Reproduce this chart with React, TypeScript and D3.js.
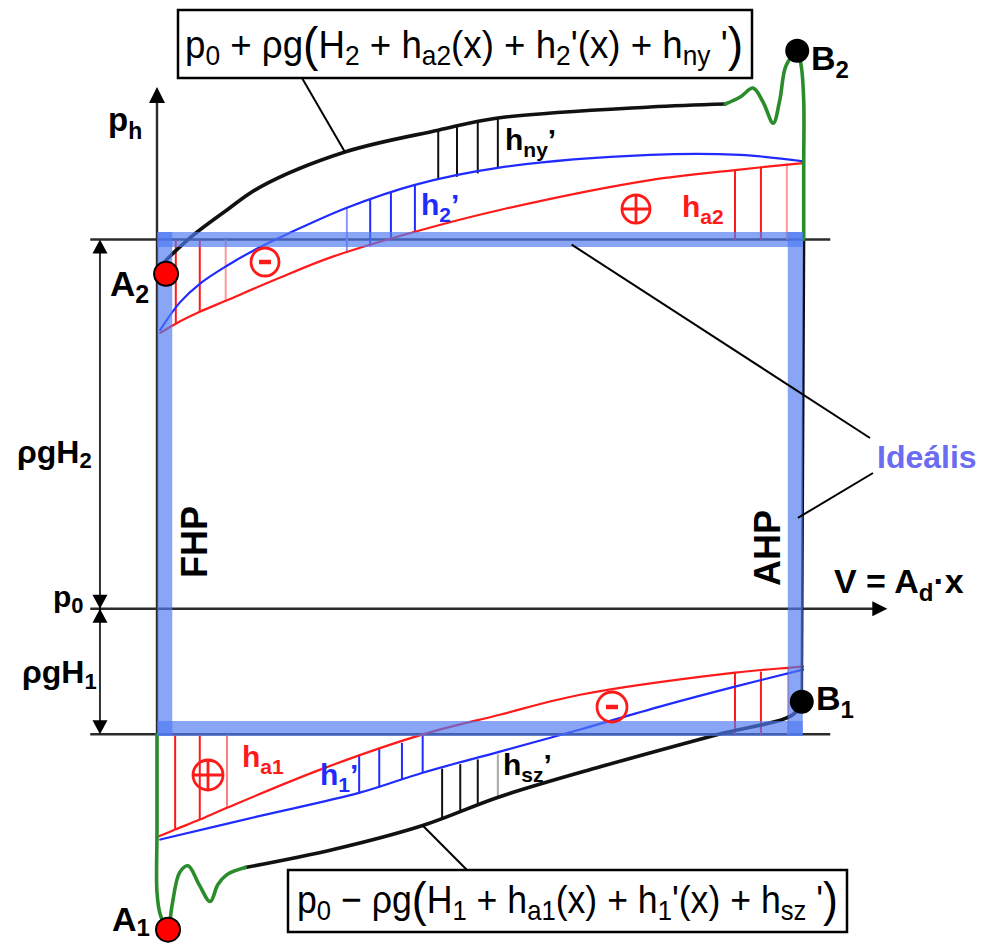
import React from 'react';
import * as d3 from 'd3';

type Pt = [number, number];
type Hatch = [number, number, number]; // u, v from, v to

// u: piston stroke, 0 = FHP .. 100 = AHP
// v: pressure above p0, rho*g*H2 = 100
const levelH2 = 100;
const levelP0 = 0;
const levelH1 = -34;

// delivery side (upper) curves
const upperTotal: Pt[] = [[1.2, 94], [2.5, 96.3], [5.6, 101.2], [10.8, 108.0], [15.9, 114.2], [29.0, 123.7], [43.4, 129.6], [52.6, 132.9], [76.1, 135.9], [87.7, 136.7]];
const upperValve: Pt[] = [[87.7, 136.7], [90.0, 138.6], [92.0, 141.0], [93.5, 137.3], [95.1, 131.5], [96.1, 137.7], [97.1, 147.2], [98.8, 150.7], [99.4, 147.2], [99.8, 137.7], [99.8, 120], [99.8, 100]];
const upperLoss: Pt[] = [[0.5, 75.5], [3.5, 82.9], [6.6, 88.0], [10.8, 92.9], [15.4, 97.5], [20.5, 101.8], [29.3, 108.6], [39.8, 114.8], [52.6, 119.4], [76.1, 122.9], [90.0, 122.9], [99.7, 121.2]];
const upperAccel: Pt[] = [[0.5, 74.7], [2.9, 77.2], [6.6, 80.4], [10.6, 83.4], [18.2, 89.1], [26.7, 95.1], [39.8, 102.1], [52.9, 108.0], [76.1, 116.1], [89.2, 118.8], [99.7, 120.7]];

// suction side (lower) curves
const lowerTotal: Pt[] = [[13.6, -70.1], [27.2, -65.2], [41.0, -58.7], [52.9, -50.9], [68.4, -42.8], [86.4, -34.1], [98.1, -28.7], [99.5, -25.2]];
const lowerValve: Pt[] = [[0, -34.1], [0, -60], [0, -76.9], [0.5, -82.8], [1.7, -86.9], [2.3, -80.6], [3.5, -71.4], [4.8, -69.6], [6.5, -74.7], [8.2, -79.3], [9.4, -74.7], [10.8, -72.0], [13.6, -70.1]];
const lowerLoss: Pt[] = [[0.5, -62.5], [15.4, -56.3], [31.3, -49.8], [41.0, -44.4], [52.9, -38.7], [65.3, -32.7], [77.6, -26.5], [89.2, -21.1], [99.7, -16.5]];
const lowerAccel: Pt[] = [[0.2, -61.7], [2.8, -59.8], [6.6, -57.1], [10.8, -53.9], [25.6, -43.3], [40.9, -34.1], [52.9, -28.7], [65.3, -23.3], [89.2, -17.3], [97.4, -16.0], [99.7, -15.7]];

const rightWall: Pt[] = [[99.85, 100], [99.5, -25.2]];

// hatching
const upperAccelMinus: Hatch[] = [[2.9, 100, 77.2], [6.6, 100, 80.4], [10.6, 100, 83.4]];
const upperAccelPlus: Hatch[] = [[89.2, 118.8, 100], [93.2, 119.8, 100], [97.2, 120.6, 100]];
const upperLossHatch: Hatch[] = [[29.3, 108.6, 96.3], [32.9, 110.8, 98.2], [36.1, 112.7, 100.4], [39.8, 114.8, 102.1]];
const upperValveHatch: Hatch[] = [[43.4, 129.6, 116.1], [46.3, 130.5, 117.0], [49.5, 131.7, 117.9], [52.6, 132.9, 119.4]];
const lowerAccelPlus: Hatch[] = [[2.8, -34.1, -59.8], [6.6, -34.1, -57.1], [10.8, -34.1, -53.9]];
const lowerAccelMinus: Hatch[] = [[89.2, -17.3, -34.1], [93.2, -17.0, -34.1], [97.4, -16.0, -34.1]];
const lowerLossHatch: Hatch[] = [[31.2, -39.5, -49.8], [34.3, -37.9, -48.4], [37.8, -36.3, -46.3], [41.0, -34.4, -44.5]];
const lowerValveHatch: Hatch[] = [[44.0, -43.3, -56.8], [46.8, -42.1, -55.0], [49.5, -40.8, -53.0], [52.6, -39.4, -51.0]];

// ideal cycle
const idealCycle: Pt[] = [[1.2, 100], [98.5, 100], [98.5, -32.4], [1.2, -32.4], [1.2, 100]];

// state points
const pointA2: Pt = [1.4, 90.7];
const pointA1: Pt = [1.7, -86.9];
const pointB1: Pt = [99.5, -25.2];
const pointB2: Pt = [98.8, 151.1];

const FONT = '"Liberation Sans", Arial, Helvetica, sans-serif';
const RED = '#ff1a1a';
const BLUE = '#1f2bff';
const GREEN = '#2a8c2a';

type Seg = { t: string; k?: 'sub' | 'big' };

const topFormula: Seg[] = [
  { t: 'p' }, { t: '0', k: 'sub' }, { t: ' + ρg' }, { t: '(', k: 'big' }, { t: 'H' }, { t: '2', k: 'sub' },
  { t: ' + h' }, { t: 'a2', k: 'sub' }, { t: '(x) + h' }, { t: '2', k: 'sub' }, { t: '\'(x) + h' },
  { t: 'ny', k: 'sub' }, { t: ' \'' }, { t: ')', k: 'big' },
];
const bottomFormula: Seg[] = [
  { t: 'p' }, { t: '0', k: 'sub' }, { t: ' \u2212 ρg' }, { t: '(', k: 'big' }, { t: 'H' }, { t: '1', k: 'sub' },
  { t: ' + h' }, { t: 'a1', k: 'sub' }, { t: '(x) + h' }, { t: '1', k: 'sub' }, { t: '\'(x) + h' },
  { t: 'sz', k: 'sub' }, { t: ' \'' }, { t: ')', k: 'big' },
];

function Formula({ x, y, width, segs }: { x: number; y: number; width: number; segs: Seg[] }) {
  return (
    <text x={x} y={y} fontSize={39} fontFamily={FONT} textLength={width} lengthAdjust="spacingAndGlyphs"
      style={{ whiteSpace: 'pre' }}>
      {segs.map((s, i) => (
        <tspan key={i} y={s.k === 'sub' ? y + 7 : s.k === 'big' ? y + 3 : y}
          fontSize={s.k === 'sub' ? 28 : s.k === 'big' ? 49 : 39}>{s.t}</tspan>
      ))}
    </text>
  );
}

function Lbl({ x, y, main, sub, tail, size = 30, subSize = 21, color = '#000', drop = 7 }:
  { x: number; y: number; main: string; sub?: string; tail?: string; size?: number; subSize?: number; color?: string; drop?: number }) {
  return (
    <text x={x} y={y} fontSize={size} fontWeight="bold" fill={color} fontFamily={FONT} style={{ whiteSpace: 'pre' }}>
      <tspan>{main}</tspan>
      {sub && <tspan y={y + drop} fontSize={subSize}>{sub}</tspan>}
      {tail && <tspan y={y} fontSize={size}>{tail}</tspan>}
    </text>
  );
}

function Sign({ cx, cy, r, plus }: { cx: number; cy: number; r: number; plus?: boolean }) {
  return (
    <g stroke={RED} strokeWidth={2.8} fill="none">
      <circle cx={cx} cy={cy} r={r} />
      {plus
        ? <path d={`M${cx - r},${cy}H${cx + r}M${cx},${cy - r}V${cy + r}`} />
        : <path d={`M${cx - 6},${cy}H${cx + 6}`} strokeWidth={4.5} />}
    </g>
  );
}

export default function App() {
  const x = d3.scaleLinear().domain([0, 100]).range([157, 805]);
  const y = d3.scaleLinear().domain([-100, 100]).range([978, 239.5]);

  const smooth = d3.line<Pt>().x(d => x(d[0])).y(d => y(d[1])).curve(d3.curveCatmullRom.alpha(0.5));
  const straight = d3.line<Pt>().x(d => x(d[0])).y(d => y(d[1]));

  const hatch = (data: Hatch[], color: string, faded: number, fadedColor: string, key: string) =>
    data.map((h, i) => (
      <line key={key + i} x1={x(h[0])} x2={x(h[0])} y1={y(h[1])} y2={y(h[2])}
        stroke={i === faded ? fadedColor : color} strokeWidth={2} />
    ));

  const xLeft = x(-10.3);
  const xLevelEnd = x(103.9);
  const xAxisEnd = x(112.7);
  const xDim = x(-8.8);
  const yTop = y(levelH2);
  const yP0 = y(levelP0);
  const yBot = y(levelH1);
  const axisTip = y(141.3);

  const up = (tx: number, ty: number, len = 14, half = 7.5) => `M${tx},${ty}L${tx - half},${ty + len}L${tx + half},${ty + len}Z`;
  const down = (tx: number, ty: number, len = 14, half = 7.5) => `M${tx},${ty}L${tx - half},${ty - len}L${tx + half},${ty - len}Z`;
  const right = (tx: number, ty: number, len = 15, half = 7.5) => `M${tx},${ty}L${tx - len},${ty - half}L${tx - len},${ty + half}Z`;

  const sides = d3.pairs(idealCycle);

  return (
    <svg width={990} height={944} viewBox="0 0 990 944"
      style={{ position: 'absolute', left: 0, top: 0, display: 'block', background: '#fff' }}>
      {/* level lines and axes */}
      <g stroke="#2b2b2b" strokeWidth={2.4}>
        <line x1={xLeft} x2={xLevelEnd} y1={yTop} y2={yTop} />
        <line x1={xLeft} x2={xLevelEnd} y1={yBot} y2={yBot} />
        <line x1={xLeft} x2={xAxisEnd - 10} y1={yP0} y2={yP0} />
        <line x1={x(0)} x2={x(0)} y1={yBot} y2={axisTip + 10} />
      </g>
      <path d={right(xAxisEnd, yP0)} fill="#000" />
      <path d={up(x(0), axisTip, 16, 8)} fill="#000" />

      {/* dimension arrows */}
      <line x1={xDim} x2={xDim} y1={yTop + 8} y2={yBot - 8} stroke="#000" strokeWidth={1.6} />
      <path d={up(xDim, yTop)} fill="#000" />
      <path d={down(xDim, yP0)} fill="#000" />
      <path d={up(xDim, yP0)} fill="#000" />
      <path d={down(xDim, yBot)} fill="#000" />

      {/* hatching */}
      {hatch(upperAccelMinus, RED, 2, '#ff9a9a', 'uam')}
      {hatch(upperAccelPlus, RED, 2, '#ff9a9a', 'uap')}
      {hatch(upperLossHatch, BLUE, 0, '#8f96ff', 'ulh')}
      {hatch(upperValveHatch, '#111', -1, '#999', 'uvh')}
      {hatch(lowerAccelPlus, RED, 2, '#ff8080', 'lap')}
      {hatch(lowerAccelMinus, RED, 2, '#ff9a9a', 'lam')}
      {hatch(lowerLossHatch, BLUE, -1, BLUE, 'llh')}
      {hatch(lowerValveHatch, '#111', 3, '#a8a8a8', 'lvh')}

      {/* curves */}
      <g fill="none" strokeLinecap="round">
        <path d={smooth(upperAccel) ?? ''} stroke={RED} strokeWidth={2.2} />
        <path d={smooth(lowerAccel) ?? ''} stroke={RED} strokeWidth={2.2} />
        <path d={smooth(upperLoss) ?? ''} stroke={BLUE} strokeWidth={2.2} />
        <path d={smooth(lowerLoss) ?? ''} stroke={BLUE} strokeWidth={2.2} />
        <path d={smooth(upperTotal) ?? ''} stroke="#111" strokeWidth={3.6} />
        <path d={smooth(lowerTotal) ?? ''} stroke="#111" strokeWidth={3.6} />
        <path d={straight(rightWall) ?? ''} stroke="#111" strokeWidth={2.6} />
        <path d={smooth(upperValve) ?? ''} stroke={GREEN} strokeWidth={3.6} />
        <path d={smooth(lowerValve) ?? ''} stroke={GREEN} strokeWidth={3.6} />
      </g>

      {/* ideal cycle */}
      <g stroke="#4f7bf2" strokeOpacity={0.68} strokeWidth={15} strokeLinecap="square">
        {sides.map((s, i) => (
          <line key={i} x1={x(s[0][0])} y1={y(s[0][1])} x2={x(s[1][0])} y2={y(s[1][1])} />
        ))}
      </g>

      {/* state points */}
      <circle cx={x(pointA2[0])} cy={y(pointA2[1])} r={12} fill="#ff0000" stroke="#000" strokeWidth={2} />
      <circle cx={x(pointA1[0])} cy={y(pointA1[1])} r={12} fill="#ff0000" stroke="#000" strokeWidth={2} />
      <circle cx={x(pointB1[0])} cy={y(pointB1[1])} r={12} fill="#000" />
      <circle cx={x(pointB2[0])} cy={y(pointB2[1])} r={12} fill="#000" />

      {/* formula boxes and leaders */}
      <line x1={302} y1={78} x2={x(29.0)} y2={y(123.7)} stroke="#000" strokeWidth={2} />
      <line x1={467} y1={870} x2={x(41.0)} y2={y(-58.7)} stroke="#000" strokeWidth={2} />
      <rect x={178} y={10} width={574} height={68} fill="#fff" stroke="#000" strokeWidth={2.5} />
      <Formula x={185} y={58} width={558} segs={topFormula} />
      <rect x={288} y={870} width={559} height={62} fill="#fff" stroke="#000" strokeWidth={2.5} />
      <Formula x={297} y={913} width={541} segs={bottomFormula} />

      {/* ideal leaders */}
      <line x1={870} y1={438} x2={x(64.0)} y2={y(98.6)} stroke="#000" strokeWidth={2} />
      <line x1={873} y1={473} x2={x(98.9)} y2={y(24.6)} stroke="#000" strokeWidth={2} />
      <text x={877} y={468} fontSize={32} fontWeight="bold" fill="#6a6cf2" fontFamily={FONT}>Ideális</text>

      {/* signs */}
      <Sign cx={265} cy={262} r={14} />
      <Sign cx={636} cy={209} r={14} plus />
      <Sign cx={208} cy={775} r={15} plus />
      <Sign cx={612} cy={707} r={15} />

      {/* labels */}
      <Lbl x={108} y={131} main="p" sub="h" size={33} subSize={23} drop={8} />
      <Lbl x={110} y={296} main="A" sub="2" size={35} subSize={25} drop={7} />
      <Lbl x={112} y={931} main="A" sub="1" size={34} subSize={24} drop={5} />
      <Lbl x={811} y={70} main="B" sub="2" size={34} subSize={24} drop={8} />
      <Lbl x={816} y={710} main="B" sub="1" size={34} subSize={24} drop={8} />
      <Lbl x={17} y={463} main="ρgH" sub="2" size={32} subSize={22} drop={5} />
      <Lbl x={53} y={607} main="p" sub="0" size={30} subSize={22} drop={6} />
      <Lbl x={22} y={683} main="ρgH" sub="1" size={32} subSize={22} drop={6} />
      <text transform="translate(207,542) rotate(-90)" textAnchor="middle" fontSize={36} fontWeight="bold" fontFamily={FONT}>FHP</text>
      <text transform="translate(780,548) rotate(-90)" textAnchor="middle" fontSize={36} fontWeight="bold" fontFamily={FONT}>AHP</text>
      <text x={834} y={593} fontSize={34} fontWeight="bold" fontFamily={FONT} style={{ whiteSpace: 'pre' }}>
        <tspan>V = A</tspan><tspan y={601} fontSize={24}>d</tspan><tspan y={593}>·x</tspan>
      </text>

      <Lbl x={505} y={150} main="h" sub="ny" tail="’" />
      <Lbl x={421} y={215} main="h" sub="2" tail="’" color={BLUE} />
      <Lbl x={682} y={217} main="h" sub="a2" color={RED} />
      <Lbl x={242} y={767} main="h" sub="a1" color={RED} />
      <Lbl x={320} y={785} main="h" sub="1" tail="’" color={BLUE} />
      <Lbl x={503} y={775} main="h" sub="sz" tail="’" />
    </svg>
  );
}
